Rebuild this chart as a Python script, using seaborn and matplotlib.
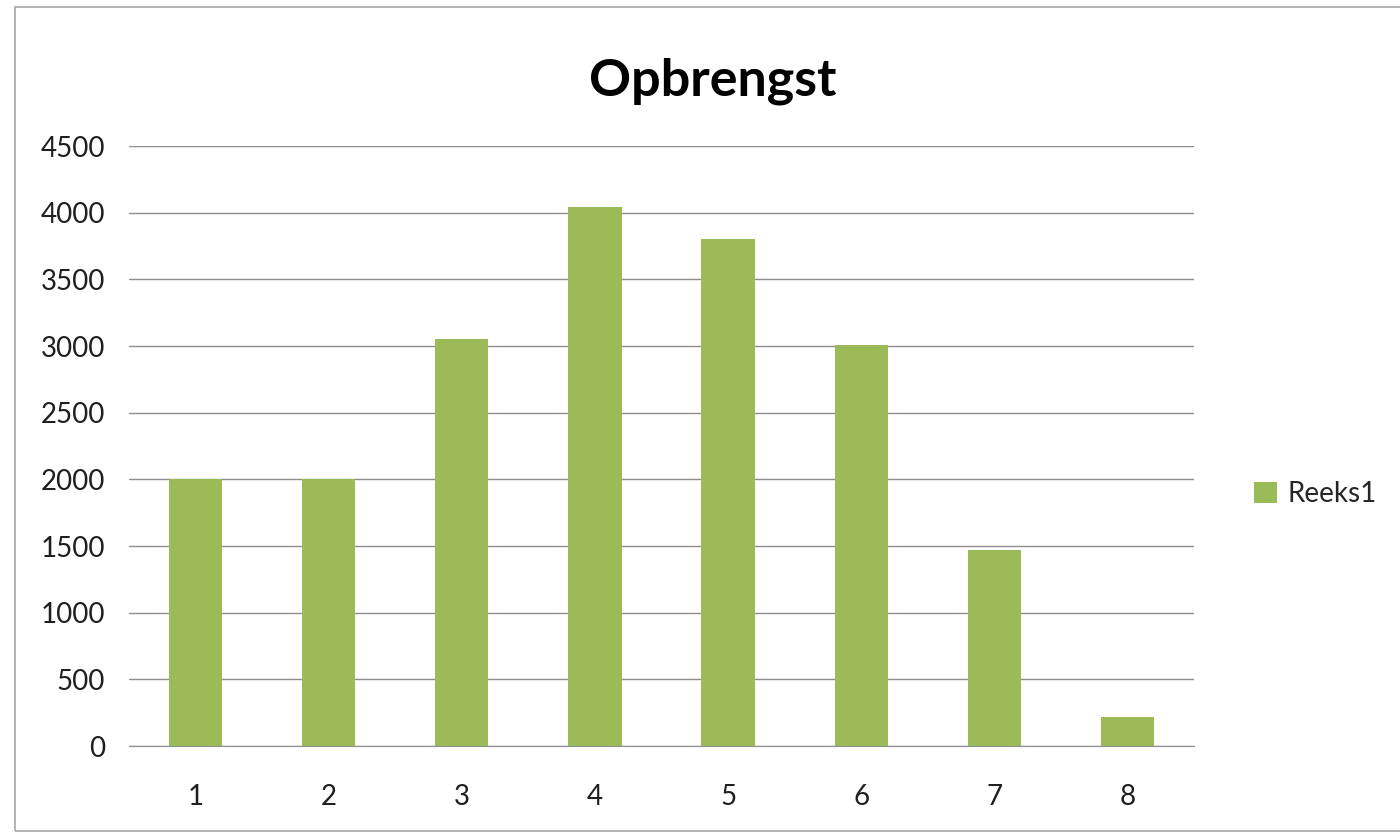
import pandas as pd
import matplotlib.pyplot as plt
import seaborn as sns
from matplotlib.patches import Rectangle

# data
categories = ["1", "2", "3", "4", "5", "6", "7", "8"]
values = [2000, 2000, 3050, 4045, 3800, 3010, 1470, 215]
series_name = "Reeks1"

df = pd.DataFrame({"cat": categories, "val": values})

sns.set_style("white")
plt.rcParams["font.family"] = ["Lato", "DejaVu Sans"]

fig = plt.figure(figsize=(14, 8.33), dpi=100)
ax = fig.add_axes([0.092, 0.1044, 0.761, 0.7203])

sns.barplot(data=df, x="cat", y="val", color="#9BBB59", width=0.4,
            saturation=1, linewidth=0, ax=ax, label=series_name, zorder=3)

ax.set_ylim(0, 4500)
ax.set_yticks(range(0, 4501, 500))
ax.yaxis.grid(True, color="#8C8C8C", linewidth=1, zorder=0)
ax.set_axisbelow(True)
for side in ["left", "right", "top"]:
    ax.spines[side].set_visible(False)
ax.spines["bottom"].set_color("#8C8C8C")
ax.tick_params(axis="both", length=0, labelsize=20, colors="#1F1F1F")
ax.tick_params(axis="x", pad=27)
ax.tick_params(axis="y", pad=17)
ax.set_xlabel("")
ax.set_ylabel("")

fig.text(0.509, 0.903, "Opbrengst", ha="center", va="center",
         fontsize=37.5, fontweight="bold", color="#000000")

ax.legend(loc="center left", bbox_to_anchor=(1.033, 0.42), frameon=False,
          fontsize=20, handlelength=0.8, handleheight=0.8, handletextpad=0.4)

# outer chart border
fig.patches.append(Rectangle((0.011, 0.002), 1.2, 0.989, transform=fig.transFigure,
                             fill=False, edgecolor="#A8A8A8", linewidth=1.2))

fig.savefig("out.png", dpi=100)
